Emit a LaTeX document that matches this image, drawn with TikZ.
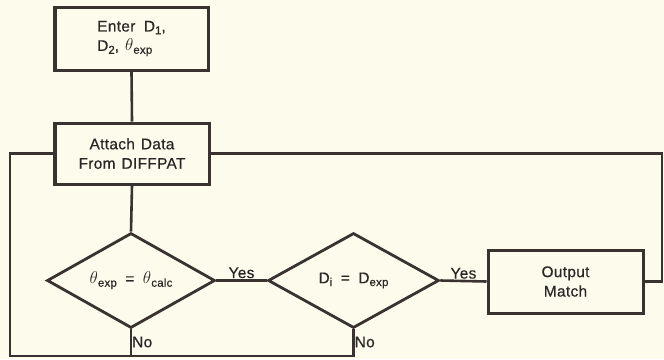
\documentclass[tikz,border=0pt]{standalone}
\usepackage{fontspec}
\setmainfont{Liberation Sans}[WordSpace=1.3,FakeBold=0.5,LetterSpace=2]
\usetikzlibrary{shapes.geometric}
\definecolor{ink}{RGB}{58,50,48}
\definecolor{txt}{RGB}{40,38,38}
\definecolor{paper}{RGB}{253,251,236}
\newcommand\sbs[1]{\raisebox{-0.35ex}{\fontsize{11.5}{11.5}\selectfont #1}}
\newcommand\thet{\mbox{\fontsize{16}{16}\selectfont$\theta$}}
\begin{document}
\begin{tikzpicture}[x=1bp,y=-1bp,
  every node/.style={text=txt,font=\fontsize{15.5}{19.5}\selectfont},
  procbox/.style={draw=ink,line width=3bp,rectangle,inner sep=0pt},
  decbox/.style={draw=ink,line width=2.8bp,diamond,inner sep=0pt,aspect=1.77,line join=miter},
  conn/.style={draw=ink,line width=2.6bp},
  lab/.style={inner sep=1pt}]
\fill[paper] (0,0) rectangle (664,359);
\useasboundingbox (0,0) rectangle (664,359);
\node[procbox,minimum width=153bp,minimum height=63bp,align=left] (enter) at (131.5,38.5) {Enter\, D\sbs{1},\\D\sbs{2}, \thet\sbs{exp}};
\node[procbox,minimum width=154bp,minimum height=61bp,align=center] (attach) at (132,153.5) {Attach Data\\From DIFFPAT};
\node[decbox,minimum width=168bp,minimum height=95bp] (d1) at (131,280.5) {\thet\sbs{exp}\, = \,\thet\sbs{calc}};
\node[decbox,minimum width=171bp,minimum height=95bp] (d2) at (353.5,280.5) {D\sbs{i}\, = \,D\sbs{exp}};
\node[procbox,minimum width=155bp,minimum height=63bp,align=center] (out) at (565.5,281.5) {Output\\Match};
\coordinate (rr) at (662,153.5);
\coordinate (ll) at (10,356);
\draw[conn] (enter.south) -- (attach.north);
\draw[conn] (attach.south) -- (d1.north);
\draw[conn] (d1.east) -- node[lab,above] {Yes} (d2.west);
\draw[conn] (d2.east) -- node[lab,above] {Yes} (out.west);
\draw[conn] (out.east) -| (rr) -- (attach.east);
\draw[conn] (d2.south) |- (ll) |- (attach.west);
\draw[conn] (d1.south) -- (d1.south |- ll);
\node[lab,anchor=west] at ([yshift=14bp]d1.south |- ll) {No};
\node[lab,anchor=west] at ([yshift=14bp]d2.south |- ll) {No};
\end{tikzpicture}
\end{document}
